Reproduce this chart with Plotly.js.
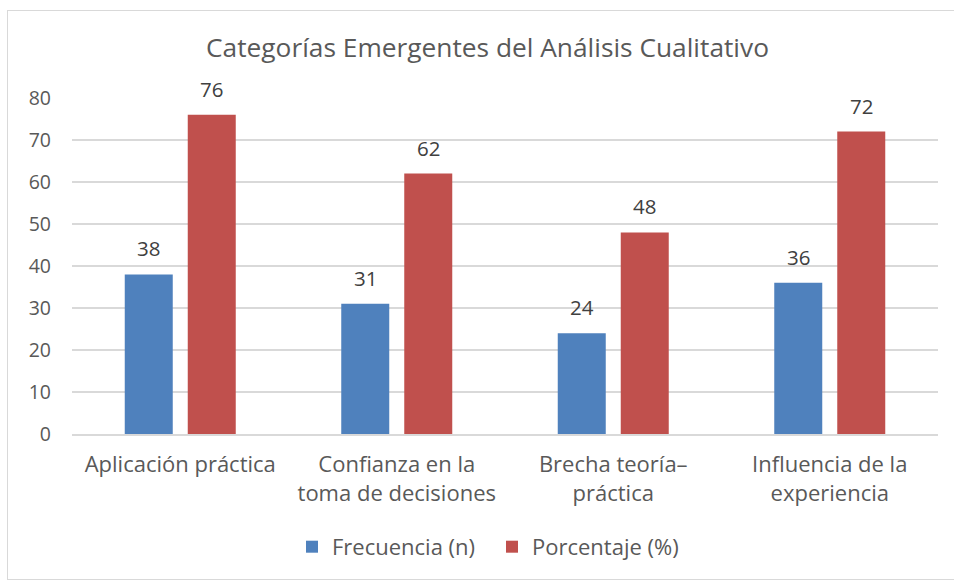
<!DOCTYPE html>
<html><head><meta charset="utf-8">
<script src="https://cdn.plot.ly/plotly-3.0.1.min.js"></script>
<style>
html,body{margin:0;padding:0;background:#fff;}
#wrap{position:relative;width:954px;height:581px;}
#chart{position:absolute;left:0;top:0;width:954px;height:581px;}
#frame{position:absolute;left:7px;top:10px;width:950px;height:570px;border:1.5px solid #d9d9d9;box-sizing:border-box;pointer-events:none;}
</style></head>
<body><div id="wrap"><div id="chart"></div><div id="frame"></div></div>
<script>
const categories = ["Aplicación práctica", "Confianza en la<br>toma de decisiones", "Brecha teoría–<br>práctica", "Influencia de la<br>experiencia"];
const frecuencia = [38, 31, 24, 36];
const porcentaje = [76, 62, 48, 72];
const seriesNames = ["Frecuencia (n)", "Porcentaje (%)"];
const yTicks = [0, 10, 20, 30, 40, 50, 60, 70, 80];

const FONT = "Open Sans, Liberation Sans, sans-serif";
const traces = [
  {type:"bar", name:seriesNames[0], x:categories, y:frecuencia, marker:{color:"#4F81BD"}, hoverinfo:"none"},
  {type:"bar", name:seriesNames[1], x:categories, y:porcentaje, marker:{color:"#C0504D"}, hoverinfo:"none"}
];
const annotations = [];
categories.forEach((c,i)=>{
  annotations.push({x:c, y:frecuencia[i], text:String(frecuencia[i]), showarrow:false, xshift:-31.5, yshift:26, font:{family:FONT,size:20.5,color:"#404040"}});
  annotations.push({x:c, y:porcentaje[i], text:String(porcentaje[i]), showarrow:false, xshift:31.5, yshift:26, font:{family:FONT,size:20.5,color:"#404040"}});
});
const layout = {
  width:954, height:581,
  margin:{l:72, r:16, t:98, b:147},
  paper_bgcolor:"rgba(0,0,0,0)", plot_bgcolor:"#fff",
  title:{text:"Categorías Emergentes del Análisis Cualitativo", x:0.511, xanchor:"center", y:0.917, yanchor:"middle",
         font:{family:"Open Sans, sans-serif", size:26.3, color:"#595959"}},
  barmode:"group", bargap:0.418, bargroupgap:0.238,
  xaxis:{type:"category", showgrid:false, showline:true, linecolor:"#d9d9d9", linewidth:1.5, ticks:"",
         tickfont:{family:FONT, size:22, color:"#595959"}, ticklabelstandoff:10},
  yaxis:{range:[0,80], tickvals:yTicks, showgrid:true, gridcolor:"#d9d9d9", gridwidth:1.5, zeroline:false, showline:false,
         ticks:"", tickfont:{family:FONT, size:19.5, color:"#595959"}, ticklabelstandoff:20},
  showlegend:true,
  legend:{orientation:"h", x:0.485, xanchor:"center", y:-0.336, yanchor:"middle", font:{family:FONT, size:22, color:"#595959"}, itemwidth:20, entrywidth:155},
  annotations:annotations
};
Plotly.newPlot("chart", traces, layout, {displayModeBar:false, staticPlot:true});
</script></body></html>
